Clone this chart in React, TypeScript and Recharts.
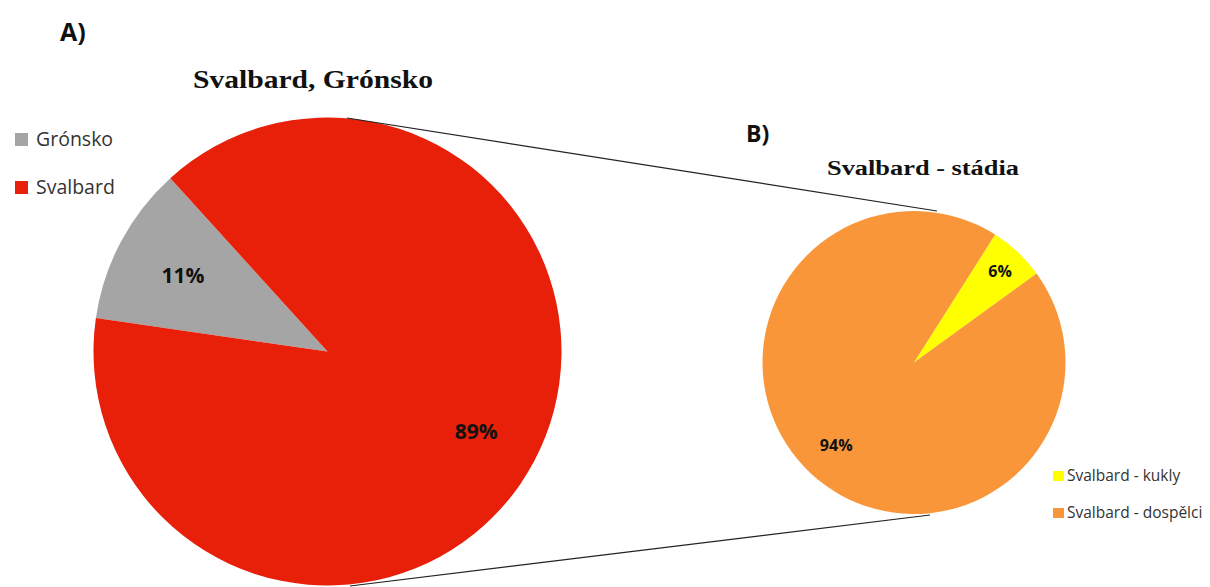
import React from "react";
import { PieChart, Pie, Cell } from "recharts";

// Share of records by region (%)
const regionNames = ["Grónsko", "Svalbard"];
const regionShares = [11, 89];

// Svalbard records by developmental stage (%)
const stageNames = ["Svalbard - kukly", "Svalbard - dospělci"];
const stageShares = [6, 94];

const regionColors = ["#A5A5A5", "#E8200A"];
const stageColors = ["#FFFF00", "#F9963A"];

const regionData = regionNames.map((name, i) => ({ name, value: regionShares[i] }));
const stageData = stageNames.map((name, i) => ({ name, value: stageShares[i] }));

const W = 1210;
const H = 587;

const BIG = { cx: 327.5, cy: 351.5, r: 234, start: 132.2 };
const SMALL = { cx: 914, cy: 362.5, r: 151.5, start: 36 };

const RAD = Math.PI / 180;

function makeLabel(radiusFractions: number[], fontSize: number) {
  return (props: any) => {
    const { cx, cy, midAngle, outerRadius, index, value } = props;
    const r = outerRadius * radiusFractions[index];
    const x = cx + r * Math.cos(-midAngle * RAD);
    const y = cy + r * Math.sin(-midAngle * RAD);
    return (
      <text
        x={x}
        y={y}
        textAnchor="middle"
        dominantBaseline="central"
        fontFamily="'Open Sans', sans-serif"
        fontWeight={700}
        fontSize={fontSize}
        fill="#111"
      >
        {`${value}%`}
      </text>
    );
  };
}

const sans = "'Open Sans', sans-serif";
const serif = "'Liberation Serif', 'Times New Roman', serif";

export default function App() {
  return (
    <div style={{ position: "absolute", left: 0, top: 0, width: W, height: H, background: "#fff" }}>
      <PieChart width={W} height={H} margin={{ top: 0, right: 0, bottom: 0, left: 0 }}>
        <Pie
          data={regionData}
          dataKey="value"
          nameKey="name"
          cx={BIG.cx}
          cy={BIG.cy}
          outerRadius={BIG.r}
          startAngle={BIG.start}
          endAngle={BIG.start + 360}
          stroke="none"
          labelLine={false}
          label={makeLabel([0.7, 0.72], 21)}
          isAnimationActive={false}
        >
          {regionData.map((d, i) => (
            <Cell key={d.name} fill={regionColors[i]} />
          ))}
        </Pie>
        <Pie
          data={stageData}
          dataKey="value"
          nameKey="name"
          cx={SMALL.cx}
          cy={SMALL.cy}
          outerRadius={SMALL.r}
          startAngle={SMALL.start}
          endAngle={SMALL.start + 360}
          stroke="none"
          labelLine={false}
          label={makeLabel([0.83, 0.75], 16)}
          isAnimationActive={false}
        >
          {stageData.map((d, i) => (
            <Cell key={d.name} fill={stageColors[i]} />
          ))}
        </Pie>
      </PieChart>
      <svg
        width={W}
        height={H}
        style={{ position: "absolute", left: 0, top: 0, pointerEvents: "none" }}
      >
        {/* connectors from the Svalbard slice to the breakdown pie */}
        <line x1={347} y1={118} x2={937} y2={211} stroke="#222" strokeWidth={1.2} />
        <line x1={350} y1={586} x2={930} y2={515} stroke="#222" strokeWidth={1.2} />

        <text x={60} y={41} fontFamily={sans} fontWeight={700} fontSize={25} fill="#111">A)</text>
        <text x={746} y={142} fontFamily={sans} fontWeight={700} fontSize={23} fill="#111">B)</text>

        <text
          x={193}
          y={88}
          fontFamily={serif}
          fontWeight={700}
          fontSize={25}
          fill="#111"
          textLength={240}
          lengthAdjust="spacingAndGlyphs"
        >
          Svalbard, Grónsko
        </text>
        <text
          x={827}
          y={175}
          fontFamily={serif}
          fontWeight={700}
          fontSize={20}
          fill="#111"
          textLength={192}
          lengthAdjust="spacingAndGlyphs"
        >
          Svalbard  -  stádia
        </text>

        {/* legend for pie A */}
        {regionNames.map((name, i) => (
          <g key={name}>
            <rect x={15} y={133 + i * 48} width={13} height={13} fill={regionColors[i]} />
            <text x={36} y={146 + i * 48} fontFamily={sans} fontSize={19.5} fill="#333">
              {name}
            </text>
          </g>
        ))}

        {/* legend for pie B */}
        {stageNames.map((name, i) => (
          <g key={name}>
            <rect x={1053} y={471 + i * 37} width={11} height={10} fill={stageColors[i]} />
            <text x={1067} y={481 + i * 37} fontFamily={sans} fontSize={15.5} fill="#333">
              {name}
            </text>
          </g>
        ))}
      </svg>
    </div>
  );
}
